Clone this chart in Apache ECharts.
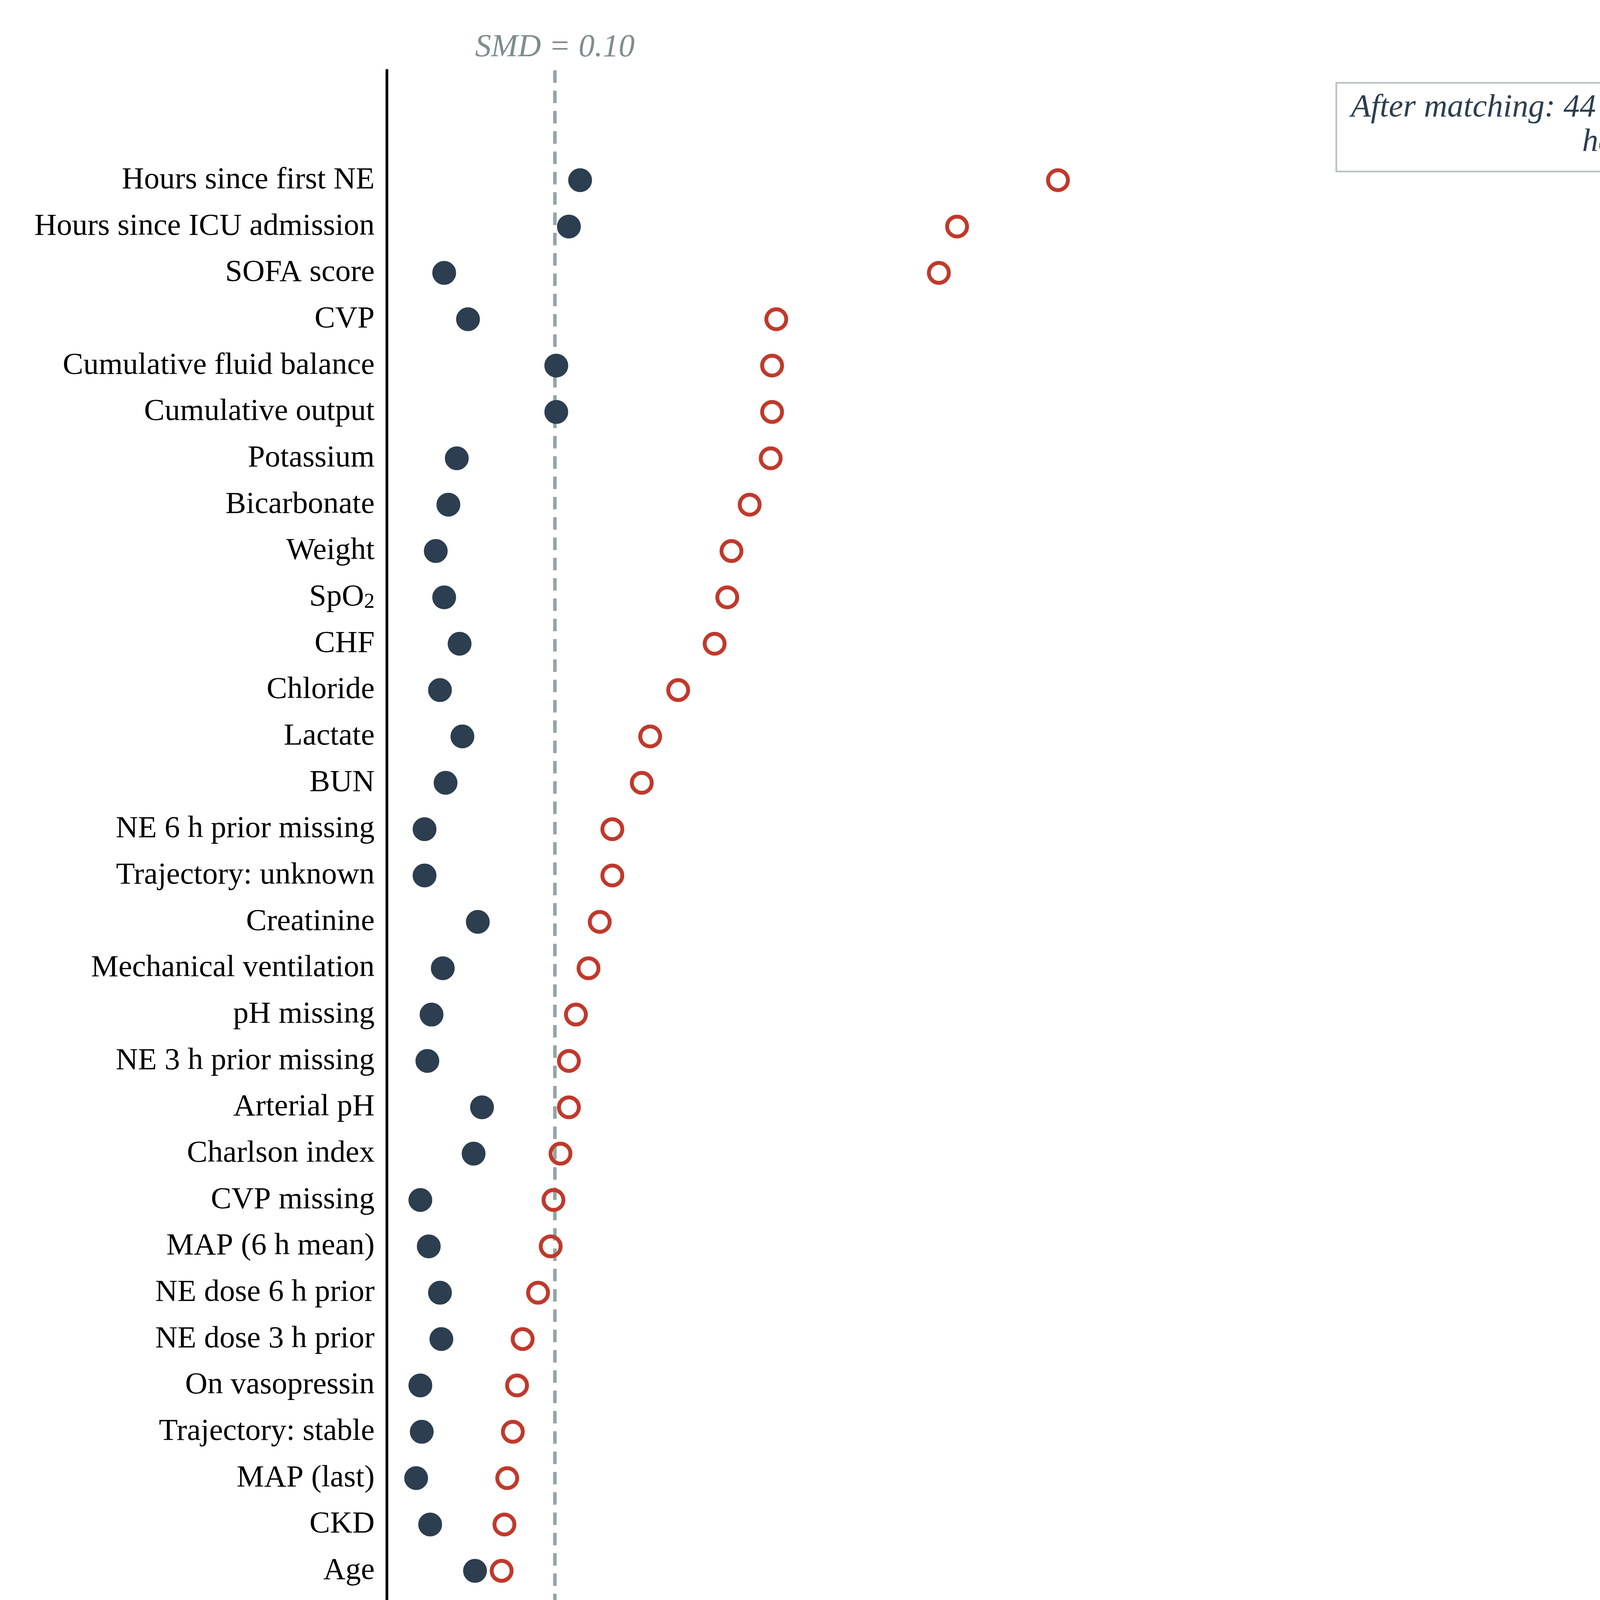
<!DOCTYPE html>
<html>
<head>
<meta charset="utf-8">
<script src="https://cdn.jsdelivr.net/npm/echarts@6/dist/echarts.min.js"></script>
<style>
html, body { margin: 0; padding: 0; background: #ffffff; }
#chart { width: 4807px; height: 6712px; }
</style>
</head>
<body>
<div id="chart"></div>
<script>
// ---- data ----
const categories = [
  "Hours since first NE", "Hours since ICU admission", "SOFA score", "CVP",
  "Cumulative fluid balance", "Cumulative output", "Potassium", "Bicarbonate",
  "Weight", "SpO₂", "CHF", "Chloride", "Lactate", "BUN",
  "NE 6 h prior missing", "Trajectory: unknown", "Creatinine", "Mechanical ventilation",
  "pH missing", "NE 3 h prior missing", "Arterial pH", "Charlson index",
  "CVP missing", "MAP (6 h mean)", "NE dose 6 h prior", "NE dose 3 h prior",
  "On vasopressin", "Trajectory: stable", "MAP (last)", "CKD", "Age",
  "On epinephrine", "Peak NE 6 h", "Lactate missing", "Trajectory: falling",
  "Current NE dose", "Albumin", "COPD", "On dobutamine", "Trajectory: rising",
  "On phenylephrine", "Male sex", "Heart rate", "Cumulative intake",
  "Mild liver disease", "Albumin missing", "On dopamine", "Severe liver disease"
];
const smdBefore = [
  0.459, 0.387, 0.374, 0.258, 0.255, 0.255, 0.254, 0.239, 0.226, 0.223,
  0.214, 0.188, 0.168, 0.162, 0.141, 0.141, 0.132, 0.124, 0.115, 0.110,
  0.110, 0.104, 0.099, 0.097, 0.088, 0.077, 0.073, 0.070, 0.066, 0.064,
  0.062, 0.047, 0.045, 0.043, 0.040, 0.038, 0.035, 0.032, 0.032, 0.031,
  0.027, 0.026, 0.023, 0.011, 0.010, 0.005, 0.004, 0.002
];
const smdAfter = [
  0.118, 0.110, 0.021, 0.038, 0.101, 0.101, 0.030, 0.024, 0.015, 0.021,
  0.032, 0.018, 0.034, 0.022, 0.007, 0.007, 0.045, 0.020, 0.012, 0.009,
  0.048, 0.042, 0.004, 0.010, 0.018, 0.019, 0.004, 0.005, 0.001, 0.011,
  0.043, 0.004, 0.007, 0.013, 0.005, 0.017, 0.036, 0.010, 0.008, 0.002,
  0.002, 0.005, 0.003, 0.002, 0.003, 0.006, 0.006, 0.001
];
const xTicks = [0.0, 0.1, 0.2, 0.3, 0.4, 0.5, 0.6, 0.7, 0.8, 0.9, 1.0];
const threshold = 0.10;
const seriesNames = ["Before matching", "After matching"];
const xTitle = "Absolute standardized mean difference";

// ---- chart ----
const FONT = '"Liberation Serif", "Times New Roman", serif';
const RED = '#c0392b';
const NAVY = '#2c3e50';
const rowIndex = categories.map((_, i) => i);
const nBalanced = smdAfter.filter(v => v < threshold).length;
const noteText = 'After matching: ' + nBalanced + ' of ' + categories.length +
  ' covariates\nhave SMD < ' + threshold.toFixed(2);

const chart = echarts.init(document.getElementById('chart'), null, {
  renderer: 'canvas', width: 4807, height: 6712
});

const option = {
  animation: false,
  backgroundColor: '#ffffff',
  tooltip: { show: false },
  grid: { left: 990, right: 86, top: 180, bottom: 392, containLabel: false },
  xAxis: {
    type: 'value',
    min: -0.02,
    max: 1.02,
    name: xTitle,
    nameLocation: 'middle',
    nameGap: 196,
    nameTextStyle: { fontFamily: FONT, fontSize: 100, color: '#000' },
    axisLine: { show: true, onZero: false, lineStyle: { color: '#000', width: 8 } },
    axisTick: { show: true, customValues: xTicks, length: 27, lineStyle: { color: '#000', width: 5.5 } },
    axisLabel: {
      show: true, customValues: xTicks,
      formatter: v => Number(v).toFixed(1),
      fontFamily: FONT, fontSize: 87, color: '#000', margin: 50
    },
    splitLine: { show: false }
  },
  yAxis: {
    type: 'value',
    inverse: true,
    min: -2.37,
    max: 49.37,
    axisLine: { show: true, onZero: false, lineStyle: { color: '#000', width: 7 } },
    axisTick: { show: false },
    axisLabel: {
      show: true,
      customValues: rowIndex,
      formatter: v => {
        const name = categories[Math.round(v)] || '';
        return name.replace('₂', '{sub|2}');
      },
      fontFamily: FONT, fontSize: 79, color: '#000', margin: 31,
      rich: {
        sub: { fontFamily: FONT, fontSize: 54, color: '#000', verticalAlign: 'bottom', lineHeight: 40 }
      }
    },
    splitLine: { show: false }
  },
  legend: {
    orient: 'vertical',
    right: 133,
    top: 5998,
    data: seriesNames,
    selectedMode: false,
    itemWidth: 51,
    itemHeight: 51,
    itemGap: 39,
    padding: [32, 38, 33, 74],
    backgroundColor: '#ffffff',
    borderColor: '#c5cacd',
    borderWidth: 5,
    borderRadius: 14,
    itemStyle: { borderWidth: 10, opacity: 1 },
    textStyle: { fontFamily: FONT, fontSize: 87, color: '#000', lineHeight: 87, padding: [0, 0, 0, 107] }
  },
  graphic: [
    {
      type: 'rect',
      shape: { x: 3421, y: 212, width: 1256, height: 227 },
      style: { fill: '#ffffff', stroke: '#bdc3c7', lineWidth: 4.5 },
      z: 10, silent: true
    },
    {
      type: 'text',
      x: 4641, y: 232,
      style: {
        text: noteText,
        fontFamily: FONT, fontStyle: 'italic', fontSize: 83,
        fill: NAVY, align: 'right', verticalAlign: 'top',
        textAlign: 'right', textVerticalAlign: 'top', lineHeight: 88
      },
      z: 11, silent: true
    }
  ],
  series: [
    {
      name: seriesNames[0],
      type: 'scatter',
      z: 2,
      silent: true,
      symbol: 'circle',
      symbolSize: 51,
      itemStyle: { color: 'rgba(0,0,0,0)', borderColor: RED, borderWidth: 10, opacity: 1 },
      emphasis: { disabled: true },
      data: smdBefore.map((v, i) => [v, i]),
      markLine: {
        silent: true,
        z: 1,
        symbol: ['none', 'none'],
        animation: false,
        data: [{ xAxis: threshold }],
        lineStyle: { color: '#95a5a6', width: 9, type: [32, 20], opacity: 1 },
        label: {
          show: true, position: 'start',
          formatter: 'SMD = ' + threshold.toFixed(2),
          fontFamily: FONT, fontStyle: 'italic', fontSize: 82, color: '#7f8c8d', distance: 17
        },
        emphasis: { disabled: true }
      }
    },
    {
      name: seriesNames[1],
      type: 'scatter',
      z: 3,
      silent: true,
      symbol: 'circle',
      symbolSize: 51,
      itemStyle: { color: NAVY, borderColor: NAVY, borderWidth: 10, opacity: 1 },
      emphasis: { disabled: true },
      data: smdAfter.map((v, i) => [v, i])
    }
  ]
};
chart.setOption(option);
</script>
</body>
</html>
